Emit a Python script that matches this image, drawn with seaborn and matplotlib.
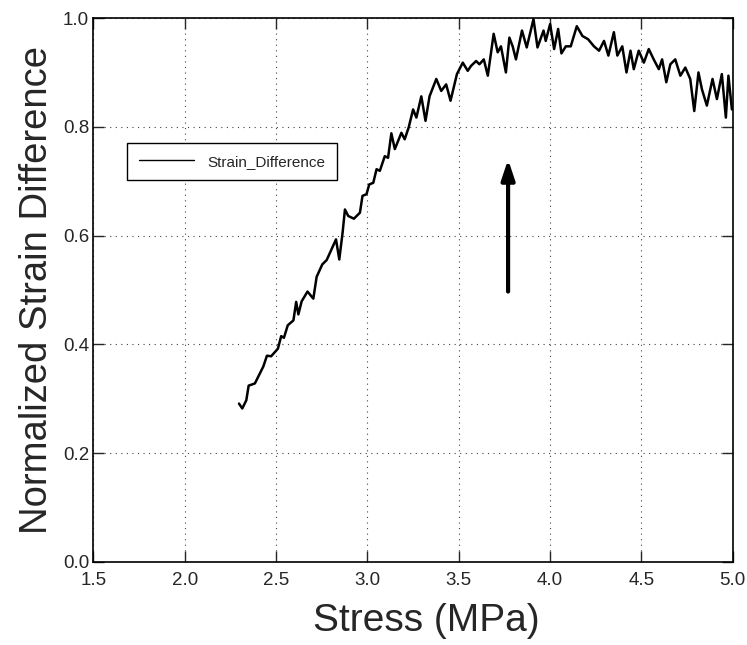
import matplotlib
matplotlib.use("Agg")
import matplotlib.pyplot as plt
import seaborn as sns
import pandas as pd

stress = [2.297, 2.315, 2.337, 2.350, 2.384, 2.430, 2.450, 2.473, 2.510, 2.528,
          2.543, 2.564, 2.595, 2.610, 2.622, 2.640, 2.672, 2.704, 2.722, 2.753,
          2.777, 2.804, 2.828, 2.846, 2.864, 2.877, 2.895, 2.926, 2.959, 2.973,
          2.995, 3.010, 3.032, 3.050, 3.068, 3.095, 3.113, 3.131, 3.150, 3.186,
          3.204, 3.226, 3.250, 3.268, 3.295, 3.318, 3.340, 3.377, 3.404, 3.431,
          3.455, 3.490, 3.522, 3.549, 3.567, 3.595, 3.613, 3.637, 3.659, 3.691,
          3.713, 3.731, 3.758, 3.777, 3.795, 3.813, 3.846, 3.872, 3.909, 3.931,
          3.964, 3.976, 4.000, 4.022, 4.044, 4.062, 4.086, 4.113, 4.146, 4.177,
          4.208, 4.240, 4.268, 4.295, 4.319, 4.349, 4.368, 4.395, 4.418, 4.440,
          4.458, 4.485, 4.513, 4.540, 4.567, 4.595, 4.613, 4.636, 4.658, 4.685,
          4.713, 4.740, 4.767, 4.789, 4.812, 4.831, 4.858, 4.889, 4.913, 4.940,
          4.962, 4.976, 4.995]
strain_diff = [0.291, 0.282, 0.297, 0.324, 0.328, 0.359, 0.379, 0.378, 0.392, 0.415,
               0.412, 0.435, 0.444, 0.478, 0.455, 0.479, 0.497, 0.484, 0.524, 0.547,
               0.555, 0.575, 0.593, 0.556, 0.605, 0.648, 0.636, 0.631, 0.642, 0.673,
               0.676, 0.694, 0.697, 0.722, 0.719, 0.746, 0.743, 0.788, 0.759, 0.789,
               0.777, 0.799, 0.832, 0.817, 0.856, 0.811, 0.856, 0.888, 0.866, 0.878,
               0.848, 0.897, 0.918, 0.903, 0.912, 0.921, 0.915, 0.924, 0.894, 0.971,
               0.937, 0.948, 0.900, 0.964, 0.948, 0.924, 0.977, 0.946, 0.998, 0.946,
               0.977, 0.958, 0.989, 0.943, 0.980, 0.935, 0.948, 0.948, 0.985, 0.967,
               0.961, 0.948, 0.940, 0.958, 0.931, 0.974, 0.931, 0.948, 0.900, 0.940,
               0.906, 0.940, 0.918, 0.943, 0.924, 0.906, 0.924, 0.882, 0.915, 0.924,
               0.894, 0.909, 0.888, 0.829, 0.900, 0.869, 0.839, 0.888, 0.851, 0.897,
               0.817, 0.894, 0.832]
x_ticks = [1.5, 2.0, 2.5, 3.0, 3.5, 4.0, 4.5, 5.0]
y_ticks = [0.0, 0.2, 0.4, 0.6, 0.8, 1.0]
series_name = "Strain_Difference"
arrow_x = 3.77
arrow_from = 0.497
arrow_to = 0.74

sns.set_style("ticks")
plt.rcParams['font.family'] = ['Liberation Sans', 'DejaVu Sans']

df = pd.DataFrame({"Stress": stress, "Value": strain_diff, "Series": series_name})

fig = plt.figure(figsize=(7.47, 6.45), dpi=100)
ax = fig.add_axes([0.125, 0.129, 0.856, 0.843])

sns.lineplot(data=df, x="Stress", y="Value", hue="Series", palette=["black"],
             linewidth=1.8, ax=ax, sort=False)

ax.set_xlim(1.5, 5.0)
ax.set_ylim(0.0, 1.0)
ax.set_xticks(x_ticks)
ax.set_yticks(y_ticks)
ax.set_xticklabels([f"{v:.1f}" for v in x_ticks], fontsize=13.5)
ax.set_yticklabels([f"{v:.1f}" for v in y_ticks], fontsize=13.5)
ax.tick_params(direction="in", length=8, width=1, top=True, right=True)
ax.tick_params(axis="x", pad=7)
ax.tick_params(axis="y", pad=3)
ax.grid(True, linestyle=(0, (1, 4)), color="#444444", linewidth=0.8)
for s in ax.spines.values():
    s.set_color("black")
    s.set_linewidth(1.2)

ax.set_xlabel("Stress (MPa)", fontsize=28, labelpad=8)
ax.xaxis.set_label_coords(0.52, -0.075)
ax.set_ylabel("Normalized Strain Difference", fontsize=27.5, labelpad=6)

ax.annotate("", xy=(arrow_x, arrow_to), xytext=(arrow_x, arrow_from),
            arrowprops=dict(arrowstyle="-|>,head_length=1.2,head_width=0.4",
                            color="black", lw=3, shrinkA=0, shrinkB=0))

leg = ax.legend(loc="upper left", bbox_to_anchor=(0.053, 0.77), fontsize=11,
                frameon=True, fancybox=False, edgecolor="black", framealpha=1,
                handlelength=3.6, borderpad=0.75, handletextpad=0.9,
                borderaxespad=0)
leg.get_frame().set_linewidth(1.0)
for h in leg.get_lines():
    h.set_linewidth(1.0)

fig.savefig("out.png", dpi=100)
